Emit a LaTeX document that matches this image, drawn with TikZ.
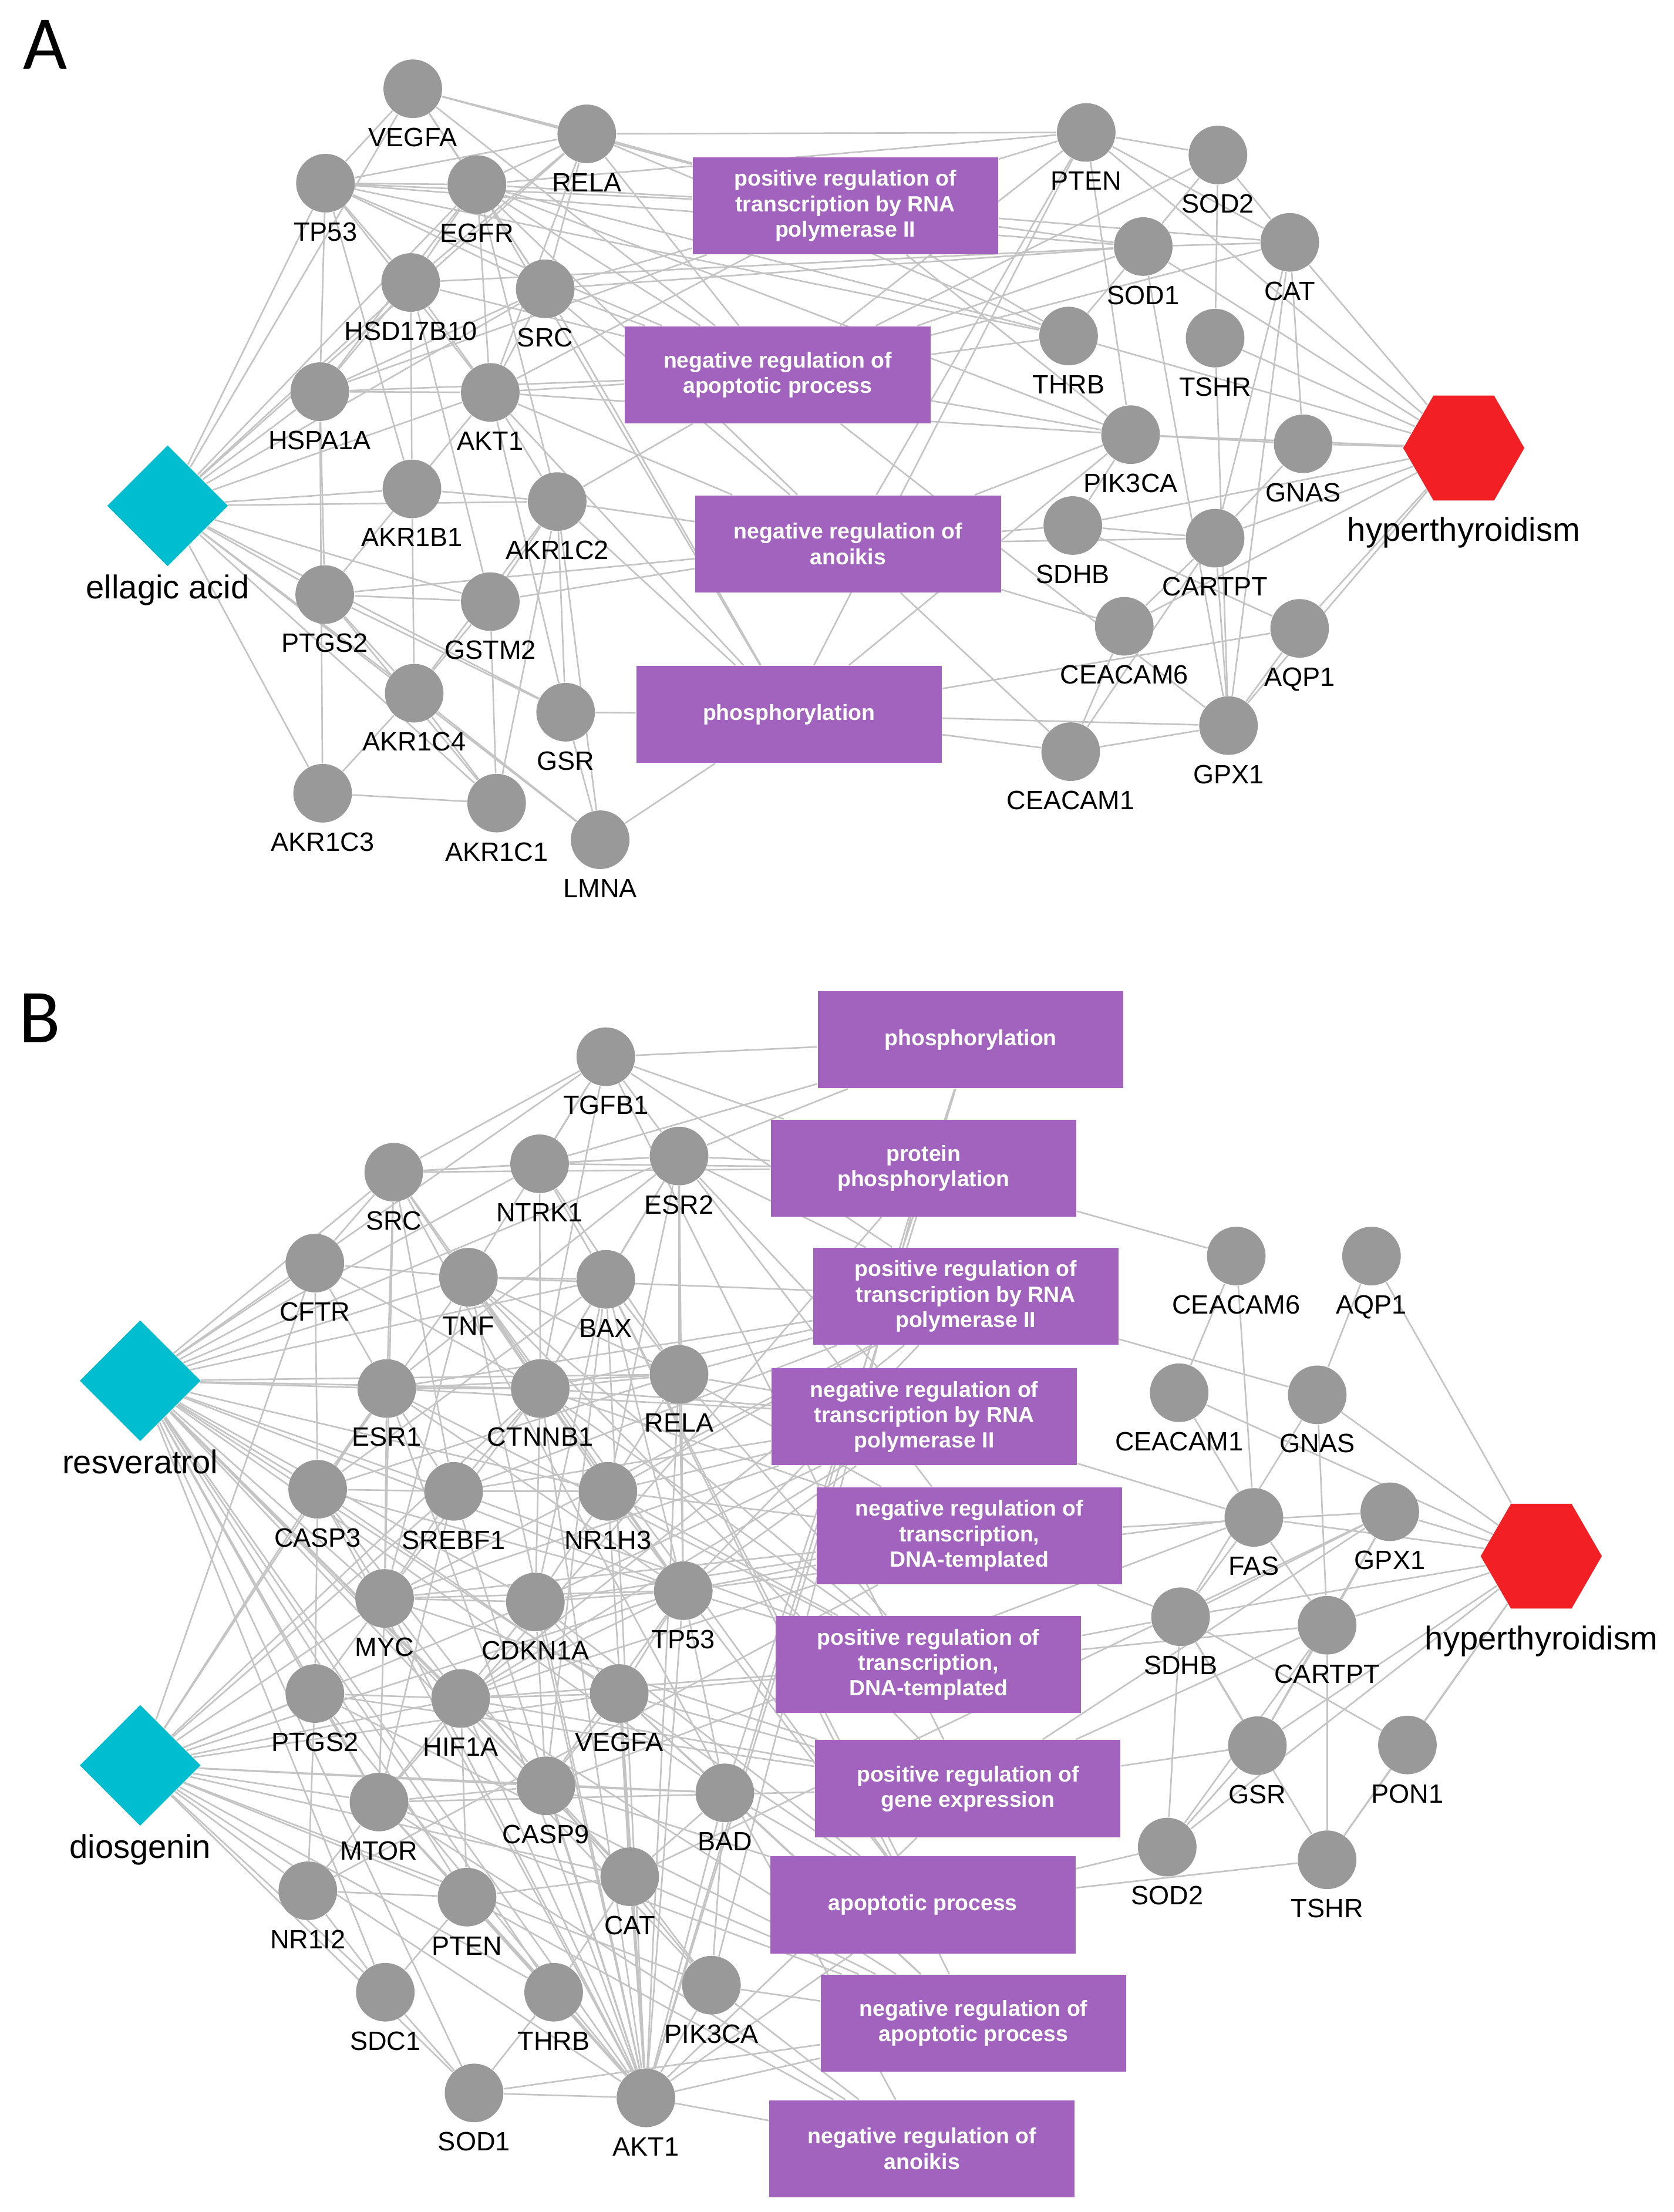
\documentclass[tikz,border=0pt]{standalone}
\usepackage{fontspec}
\setmainfont{Liberation Sans}
\newfontfamily\panelfont{Carlito}
\usetikzlibrary{shapes.geometric}
\definecolor{nodegray}{RGB}{153,153,153}
\definecolor{edgegray}{RGB}{196,196,196}
\definecolor{cmpcyan}{RGB}{0,190,208}
\definecolor{disred}{RGB}{242,32,36}
\definecolor{gopurple}{RGB}{161,99,190}
\pgfdeclarelayer{bgl}
\pgfdeclarelayer{edgel}
\pgfsetlayers{bgl,edgel,main}
\tikzset{
  gene/.style={circle, fill=nodegray, draw=none, minimum size=20.8pt, inner sep=0pt},
  glabel/.style={anchor=base, font=\fontsize{9.4}{11}\selectfont, inner sep=0pt},
  compound/.style={diamond, fill=cmpcyan, draw=none, minimum width=43pt, minimum height=43pt, inner sep=0pt},
  disease/.style={regular polygon, regular polygon sides=6, fill=disred, draw=none, minimum size=43pt, inner sep=0pt},
  goterm/.style={rectangle, fill=gopurple, draw=none, minimum width=108.4pt, minimum height=34.4pt, text=white, font=\bfseries\fontsize{7.8}{9}\selectfont, align=center, inner sep=0pt},
  biglabel/.style={anchor=base, font=\fontsize{11.7}{14}\selectfont, inner sep=0pt},
  lnk/.style={draw=edgegray, line width=0.55pt},
  panel/.style={anchor=base west, font=\panelfont\fontsize{27}{30}\selectfont, inner sep=0pt},
}
\newcommand{\genenode}[4]{\node[gene] (#1) at (#2,#3) {}; \node[glabel] (#1-l) at (#2,#3+41) {#4};}
\begin{document}
\begin{tikzpicture}[x=0.5pt,y=-0.5pt]
\begin{pgfonlayer}{bgl}
\fill[white] (0,0) rectangle (1188,1570);
\end{pgfonlayer}
\useasboundingbox (0,0) rectangle (1188,1570);

% ---------------- Panel A ----------------
\node[panel] (pA) at (16,49) {A};
\node[compound] (a-ea) at (119,359) {};
\node[biglabel] (a-ea-l) at (119,425) {ellagic acid};
\node[disease] (a-h) at (1039,318) {};
\node[biglabel] (a-h-l) at (1039,384) {hyperthyroidism};

\genenode{a-vegfa}{293}{63}{VEGFA}
\genenode{a-rela}{416.5}{95}{RELA}
\genenode{a-tp53}{231}{130}{TP53}
\genenode{a-egfr}{338.5}{131}{EGFR}
\genenode{a-hsd}{291.5}{200.5}{HSD17B10}
\genenode{a-src}{387}{205}{SRC}
\genenode{a-hspa}{227}{278}{HSPA1A}
\genenode{a-akt1}{348}{278.5}{AKT1}
\genenode{a-akr1b1}{292.4}{347}{AKR1B1}
\genenode{a-akr1c2}{395.5}{356}{AKR1C2}
\genenode{a-ptgs2}{230.5}{422}{PTGS2}
\genenode{a-gstm2}{348}{427}{GSTM2}
\genenode{a-akr1c4}{294}{492}{AKR1C4}
\genenode{a-gsr}{401.5}{505.5}{GSR}
\genenode{a-akr1c3}{229}{563}{AKR1C3}
\genenode{a-akr1c1}{352.5}{570}{AKR1C1}
\genenode{a-lmna}{426}{596}{LMNA}

\genenode{a-pten}{771}{94}{PTEN}
\genenode{a-sod2}{864.5}{110}{SOD2}
\genenode{a-sod1}{811.5}{175}{SOD1}
\genenode{a-cat}{915.5}{172}{CAT}
\genenode{a-thrb}{758.5}{238.5}{THRB}
\genenode{a-tshr}{862.5}{240}{TSHR}
\genenode{a-pik3ca}{802.5}{308.5}{PIK3CA}
\genenode{a-gnas}{925}{315}{GNAS}
\genenode{a-sdhb}{761.5}{373}{SDHB}
\genenode{a-cartpt}{862.5}{382}{CARTPT}
\genenode{a-ceacam6}{798}{444.5}{CEACAM6}
\genenode{a-aqp1}{922.5}{446}{AQP1}
\genenode{a-ceacam1}{760}{533.5}{CEACAM1}
\genenode{a-gpx1}{872}{515}{GPX1}

\node[goterm] (a-go1) at (600,146) {positive regulation of\\transcription by RNA\\polymerase II};
\node[goterm] (a-go2) at (552,266) {negative regulation of\\apoptotic process};
\node[goterm] (a-go3) at (602,386) {negative regulation of\\anoikis};
\node[goterm] (a-go4) at (560,507) {phosphorylation};

\begin{pgfonlayer}{edgel}
\foreach \v in {a-vegfa,a-rela,a-tp53,a-egfr,a-hsd,a-src,a-hspa,a-akt1,a-akr1b1,a-akr1c2,a-ptgs2,a-gstm2,a-akr1c4,a-gsr,a-akr1c3,a-akr1c1,a-lmna}
  \draw[lnk] (a-ea) -- (\v);
\foreach \u/\v in {a-tp53/a-vegfa,a-tp53/a-egfr,a-tp53/a-rela,a-tp53/a-hspa,a-tp53/a-hsd,a-tp53/a-akt1,a-tp53/a-src,a-tp53/a-akr1b1,
  a-vegfa/a-rela,a-vegfa/a-src,a-vegfa/a-egfr,
  a-egfr/a-hspa,a-egfr/a-hsd,a-egfr/a-src,a-egfr/a-akt1,a-egfr/a-rela,a-egfr/a-akr1c2,
  a-rela/a-hsd,a-rela/a-akt1,a-rela/a-src,
  a-hsd/a-hspa,a-hsd/a-akr1b1,a-hsd/a-akt1,a-hsd/a-gstm2,
  a-src/a-akt1,a-src/a-hspa,
  a-hspa/a-akt1,a-hspa/a-ptgs2,a-hspa/a-akr1c3,
  a-akt1/a-akr1c2,a-akt1/a-gsr,a-akt1/a-ptgs2,
  a-akr1b1/a-akr1c2,a-akr1b1/a-akr1c4,
  a-ptgs2/a-akr1c4,a-ptgs2/a-gstm2,a-ptgs2/a-akr1c1,a-ptgs2/a-gsr,
  a-gstm2/a-akr1c2,a-gstm2/a-akr1c4,a-gstm2/a-akr1c1,
  a-akr1c2/a-gsr,a-akr1c2/a-akr1c1,a-akr1c2/a-lmna,a-akr1c2/a-akr1c4,
  a-akr1c4/a-akr1c3,a-akr1c4/a-akr1c1,a-akr1c4/a-lmna,
  a-akr1c3/a-akr1c1,a-gsr/a-lmna,
  a-go1/a-tp53,a-go1/a-egfr,a-go1/a-rela,a-go1/a-vegfa,a-go1/a-src,a-go1/a-akt1,a-go1/a-hspa,
  a-go2/a-tp53,a-go2/a-egfr,a-go2/a-akt1,a-go2/a-hspa,a-go2/a-src,a-go2/a-rela,a-go2/a-vegfa,a-go2/a-akr1c2,a-go2/a-hsd,
  a-go3/a-ptgs2,a-go3/a-akt1,a-go3/a-src,a-go3/a-egfr,a-go3/a-akr1c2,a-go3/a-gstm2,
  a-go4/a-gsr,a-go4/a-lmna,a-go4/a-akt1,a-go4/a-egfr,a-go4/a-src,a-go4/a-akr1c2,
  a-go1/a-pten,a-go1/a-thrb,a-go1/a-sod1,a-go1/a-pik3ca,a-go1/a-cat,
  a-go2/a-pik3ca,a-go2/a-sod1,a-go2/a-cat,a-go2/a-gpx1,a-go2/a-pten,a-go2/a-thrb,a-go2/a-sod2,
  a-go3/a-pik3ca,a-go3/a-sdhb,a-go3/a-cartpt,a-go3/a-ceacam6,a-go3/a-pten,a-go3/a-ceacam1,
  a-go4/a-ceacam1,a-go4/a-gpx1,a-go4/a-pik3ca,a-go4/a-aqp1,a-go4/a-pten,
  a-h/a-cat,a-h/a-tshr,a-h/a-thrb,a-h/a-pik3ca,a-h/a-gnas,a-h/a-sod1,a-h/a-cartpt,a-h/a-aqp1,a-h/a-gpx1,a-h/a-sdhb,a-h/a-ceacam6,a-h/a-pten,
  a-pten/a-cat,a-pten/a-pik3ca,a-pten/a-sod2,a-sod2/a-sod1,a-sod2/a-cat,a-sod2/a-tshr,a-sod1/a-cat,a-sod1/a-gpx1,a-sod1/a-thrb,
  a-cat/a-gnas,a-cat/a-gpx1,a-cat/a-cartpt,a-tshr/a-gpx1,a-pik3ca/a-gnas,a-pik3ca/a-sdhb,a-sdhb/a-cartpt,a-sdhb/a-aqp1,
  a-cartpt/a-ceacam6,a-cartpt/a-ceacam1,a-cartpt/a-gpx1,a-cartpt/a-gnas,a-ceacam6/a-ceacam1,a-ceacam1/a-gpx1,a-aqp1/a-gpx1,
  a-rela/a-pten,a-egfr/a-pten,a-tp53/a-thrb,a-egfr/a-thrb,a-akt1/a-pik3ca,a-egfr/a-pik3ca,a-rela/a-thrb,a-hsd/a-sod1,a-src/a-sod1,a-tp53/a-sod1}
  \draw[lnk] (\u) -- (\v);
\end{pgfonlayer}

% ---------------- Panel B ----------------
\node[panel] (pB) at (13,740) {B};
\node[compound] (b-res) at (99.5,980) {};
\node[biglabel] (b-res-l) at (99.5,1046) {resveratrol};
\node[compound] (b-dio) at (99.5,1253) {};
\node[biglabel] (b-dio-l) at (99.5,1319) {diosgenin};
\node[disease] (b-h) at (1094,1104.5) {};
\node[biglabel] (b-h-l) at (1094,1171) {hyperthyroidism};

\genenode{b-tgfb1}{430}{750}{TGFB1}
\genenode{b-src}{279.5}{832}{SRC}
\genenode{b-ntrk1}{383}{826}{NTRK1}
\genenode{b-esr2}{482}{820.5}{ESR2}
\genenode{b-cftr}{223.5}{896.5}{CFTR}
\genenode{b-tnf}{332.5}{906.5}{TNF}
\genenode{b-bax}{430}{908}{BAX}
\genenode{b-esr1}{274.5}{985.5}{ESR1}
\genenode{b-ctnnb1}{383.5}{985.5}{CTNNB1}
\genenode{b-rela}{482}{975.5}{RELA}
\genenode{b-casp3}{225.5}{1057}{CASP3}
\genenode{b-srebf1}{322}{1058.5}{SREBF1}
\genenode{b-nr1h3}{431.5}{1058.5}{NR1H3}
\genenode{b-myc}{273}{1134.5}{MYC}
\genenode{b-cdkn1a}{380}{1137}{CDKN1A}
\genenode{b-tp53}{485}{1129}{TP53}
\genenode{b-ptgs2}{223.5}{1202}{PTGS2}
\genenode{b-hif1a}{327}{1205.5}{HIF1A}
\genenode{b-vegfa}{439.5}{1202}{VEGFA}
\genenode{b-mtor}{269}{1279}{MTOR}
\genenode{b-casp9}{387.5}{1267.5}{CASP9}
\genenode{b-bad}{514.5}{1272.5}{BAD}
\genenode{b-nr1i2}{218.5}{1342}{NR1I2}
\genenode{b-pten}{331.5}{1346.5}{PTEN}
\genenode{b-cat}{447}{1332}{CAT}
\genenode{b-sdc1}{273.5}{1414}{SDC1}
\genenode{b-thrb}{393}{1414}{THRB}
\genenode{b-pik3ca}{505}{1409}{PIK3CA}
\genenode{b-sod1}{336.5}{1485.5}{SOD1}
\genenode{b-akt1}{458.5}{1489}{AKT1}

\genenode{b-ceacam6}{877.5}{891.5}{CEACAM6}
\genenode{b-aqp1}{973.5}{891.5}{AQP1}
\genenode{b-ceacam1}{837}{988.5}{CEACAM1}
\genenode{b-gnas}{935}{990}{GNAS}
\genenode{b-fas}{890}{1077}{FAS}
\genenode{b-gpx1}{986.5}{1073}{GPX1}
\genenode{b-sdhb}{838}{1147.5}{SDHB}
\genenode{b-cartpt}{942}{1153.5}{CARTPT}
\genenode{b-gsr}{892.5}{1239}{GSR}
\genenode{b-pon1}{999}{1238.5}{PON1}
\genenode{b-sod2}{828.5}{1311}{SOD2}
\genenode{b-tshr}{942}{1320}{TSHR}

\node[goterm] (b-go1) at (689,738) {phosphorylation};
\node[goterm] (b-go2) at (655.5,829) {protein\\phosphorylation};
\node[goterm] (b-go3) at (685.5,920) {positive regulation of\\transcription by RNA\\polymerase II};
\node[goterm] (b-go4) at (656,1005.5) {negative regulation of\\transcription by RNA\\polymerase II};
\node[goterm] (b-go5) at (688,1090) {negative regulation of\\transcription,\\DNA-templated};
\node[goterm] (b-go6) at (659,1181.5) {positive regulation of\\transcription,\\DNA-templated};
\node[goterm] (b-go7) at (687,1269.5) {positive regulation of\\gene expression};
\node[goterm] (b-go8) at (655,1352) {apoptotic process};
\node[goterm] (b-go9) at (691,1436) {negative regulation of\\apoptotic process};
\node[goterm] (b-go10) at (654.5,1525) {negative regulation of\\anoikis};

\begin{pgfonlayer}{edgel}
\foreach \v in {b-tgfb1,b-src,b-ntrk1,b-esr2,b-cftr,b-tnf,b-bax,b-esr1,b-ctnnb1,b-rela,b-casp3,b-srebf1,b-nr1h3,b-myc,b-cdkn1a,b-tp53,b-ptgs2,b-hif1a,b-vegfa,b-mtor,b-casp9,b-bad,b-cat,b-pten,b-sdc1,b-pik3ca,b-akt1,b-sod1,b-thrb}
  \draw[lnk] (b-res) -- (\v);
\foreach \v in {b-casp3,b-myc,b-ptgs2,b-hif1a,b-mtor,b-casp9,b-nr1i2,b-pten,b-cat,b-sdc1,b-sod1,b-akt1,b-thrb,b-srebf1,b-esr1,b-vegfa,b-bad,b-tp53,b-pik3ca,b-cdkn1a,b-ctnnb1,b-cftr}
  \draw[lnk] (b-dio) -- (\v);
\foreach \u/\v in {b-tgfb1/b-src,b-tgfb1/b-esr2,b-tgfb1/b-ctnnb1,b-tgfb1/b-tnf,b-tgfb1/b-ntrk1,
  b-src/b-ntrk1,b-src/b-cftr,b-src/b-tnf,b-src/b-ctnnb1,b-src/b-esr1,b-src/b-srebf1,b-src/b-myc,b-src/b-esr2,
  b-ntrk1/b-esr2,b-ntrk1/b-ctnnb1,b-ntrk1/b-rela,b-ntrk1/b-bax,
  b-esr2/b-bax,b-esr2/b-rela,b-esr2/b-ctnnb1,b-esr2/b-esr1,b-esr2/b-tp53,b-esr2/b-nr1h3,
  b-cftr/b-tnf,b-cftr/b-esr1,b-cftr/b-casp3,b-cftr/b-ctnnb1,
  b-tnf/b-bax,b-tnf/b-ctnnb1,b-tnf/b-rela,b-tnf/b-casp3,b-tnf/b-tp53,b-tnf/b-nr1h3,b-tnf/b-myc,
  b-bax/b-rela,b-bax/b-ctnnb1,b-bax/b-casp3,b-bax/b-tp53,b-bax/b-casp9,b-bax/b-cdkn1a,
  b-esr1/b-ctnnb1,b-esr1/b-srebf1,b-esr1/b-myc,b-esr1/b-casp3,b-esr1/b-rela,b-esr1/b-tp53,
  b-ctnnb1/b-rela,b-ctnnb1/b-myc,b-ctnnb1/b-nr1h3,b-ctnnb1/b-cdkn1a,b-ctnnb1/b-srebf1,b-ctnnb1/b-tp53,
  b-rela/b-nr1h3,b-rela/b-tp53,b-rela/b-casp3,
  b-casp3/b-srebf1,b-casp3/b-myc,b-casp3/b-casp9,b-casp3/b-ptgs2,b-casp3/b-tp53,
  b-srebf1/b-nr1h3,b-srebf1/b-myc,b-srebf1/b-mtor,
  b-nr1h3/b-tp53,b-nr1h3/b-cdkn1a,
  b-myc/b-cdkn1a,b-myc/b-tp53,b-myc/b-hif1a,b-myc/b-ptgs2,b-myc/b-mtor,
  b-cdkn1a/b-tp53,b-cdkn1a/b-hif1a,b-cdkn1a/b-vegfa,b-cdkn1a/b-casp9,
  b-tp53/b-vegfa,b-tp53/b-bad,b-tp53/b-casp9,b-tp53/b-hif1a,
  b-ptgs2/b-hif1a,b-ptgs2/b-mtor,b-ptgs2/b-nr1i2,
  b-hif1a/b-vegfa,b-hif1a/b-mtor,b-hif1a/b-casp9,b-hif1a/b-pten,
  b-vegfa/b-casp9,b-vegfa/b-bad,b-vegfa/b-cat,
  b-mtor/b-casp9,b-mtor/b-nr1i2,b-mtor/b-pten,
  b-casp9/b-bad,b-casp9/b-cat,b-casp9/b-pik3ca,
  b-bad/b-cat,b-bad/b-pik3ca,
  b-nr1i2/b-pten,b-nr1i2/b-sdc1,
  b-pten/b-cat,b-pten/b-thrb,b-pten/b-sdc1,
  b-cat/b-pik3ca,b-cat/b-thrb,
  b-sdc1/b-sod1,b-thrb/b-sod1,
  b-akt1/b-pten,b-akt1/b-cat,b-akt1/b-thrb,b-akt1/b-pik3ca,b-akt1/b-sod1,b-akt1/b-mtor,b-akt1/b-casp9,b-akt1/b-bad,b-akt1/b-tp53,b-akt1/b-hif1a,b-akt1/b-vegfa,b-akt1/b-myc,b-akt1/b-esr1,b-akt1/b-ctnnb1,b-akt1/b-casp3,b-akt1/b-cdkn1a,b-akt1/b-rela,b-akt1/b-srebf1,b-akt1/b-nr1h3,b-akt1/b-ptgs2,b-akt1/b-bax,b-akt1/b-tnf}
  \draw[lnk] (\u) -- (\v);
\foreach \u/\v in {b-go1/b-tgfb1,b-go1/b-ntrk1,b-go1/b-esr2,b-go1/b-akt1,b-go1/b-bad,
  b-go2/b-esr2,b-go2/b-ntrk1,b-go2/b-src,b-go2/b-tgfb1,b-go2/b-akt1,b-go2/b-mtor,b-go2/b-pik3ca,b-go2/b-ceacam6,
  b-go3/b-esr2,b-go3/b-rela,b-go3/b-ctnnb1,b-go3/b-tp53,b-go3/b-esr1,b-go3/b-myc,b-go3/b-hif1a,b-go3/b-nr1h3,b-go3/b-srebf1,b-go3/b-tnf,b-go3/b-tgfb1,b-go3/b-gnas,
  b-go4/b-esr1,b-go4/b-esr2,b-go4/b-tp53,b-go4/b-ctnnb1,b-go4/b-myc,b-go4/b-rela,b-go4/b-nr1h3,b-go4/b-srebf1,b-go4/b-hif1a,b-go4/b-cdkn1a,b-go4/b-fas,
  b-go5/b-esr2,b-go5/b-nr1h3,b-go5/b-tp53,b-go5/b-ctnnb1,b-go5/b-rela,b-go5/b-myc,b-go5/b-cdkn1a,b-go5/b-hif1a,b-go5/b-nr1i2,b-go5/b-sdhb,b-go5/b-gpx1,
  b-go6/b-esr1,b-go6/b-ctnnb1,b-go6/b-rela,b-go6/b-tp53,b-go6/b-hif1a,b-go6/b-nr1h3,b-go6/b-srebf1,b-go6/b-tnf,b-go6/b-vegfa,b-go6/b-cartpt,b-go6/b-sdhb,
  b-go7/b-tnf,b-go7/b-tgfb1,b-go7/b-ptgs2,b-go7/b-hif1a,b-go7/b-vegfa,b-go7/b-myc,b-go7/b-mtor,b-go7/b-akt1,b-go7/b-cartpt,b-go7/b-gsr,b-go7/b-gpx1,
  b-go8/b-bax,b-go8/b-casp3,b-go8/b-casp9,b-go8/b-tp53,b-go8/b-bad,b-go8/b-tnf,b-go8/b-cdkn1a,b-go8/b-akt1,b-go8/b-sod2,b-go8/b-tshr,
  b-go9/b-akt1,b-go9/b-pik3ca,b-go9/b-bad,b-go9/b-cat,b-go9/b-sod1,b-go9/b-ptgs2,b-go9/b-vegfa,b-go9/b-hif1a,b-go9/b-mtor,b-go9/b-bax,
  b-go10/b-pik3ca,b-go10/b-akt1,b-go10/b-mtor,b-go10/b-pten,b-go10/b-src,
  b-h/b-aqp1,b-h/b-gnas,b-h/b-fas,b-h/b-gpx1,b-h/b-sdhb,b-h/b-cartpt,b-h/b-gsr,b-h/b-pon1,b-h/b-sod2,b-h/b-tshr,b-h/b-ceacam1,
  b-ceacam6/b-ceacam1,b-ceacam6/b-fas,b-aqp1/b-gnas,b-gnas/b-cartpt,b-gnas/b-sdhb,b-ceacam1/b-fas,b-fas/b-sdhb,b-fas/b-cartpt,
  b-gpx1/b-cartpt,b-gpx1/b-sdhb,b-gpx1/b-gsr,b-sdhb/b-gsr,b-sdhb/b-pon1,b-sdhb/b-sod2,b-cartpt/b-gsr,b-cartpt/b-tshr,
  b-cartpt/b-sod2,b-gsr/b-sod2,b-pon1/b-tshr,b-sdhb/b-tshr,
  b-tp53/b-fas,b-cat/b-gpx1,b-casp9/b-fas}
  \draw[lnk] (\u) -- (\v);
\end{pgfonlayer}
\end{tikzpicture}
\end{document}
